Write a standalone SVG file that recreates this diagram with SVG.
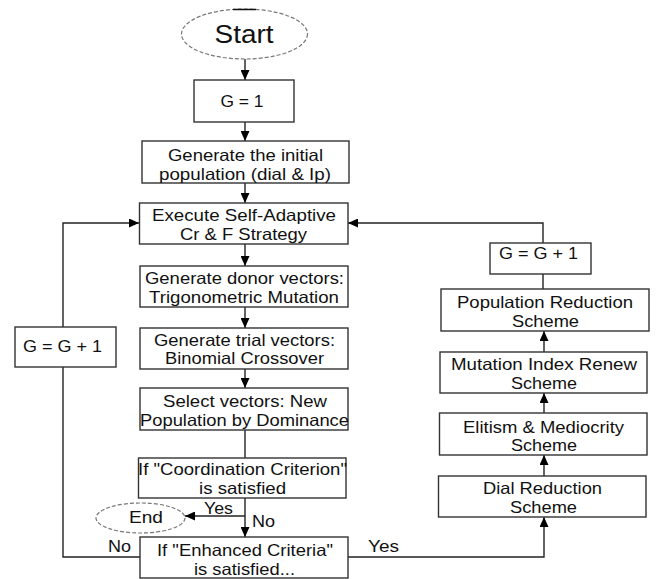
<svg xmlns="http://www.w3.org/2000/svg" width="657" height="579" viewBox="0 0 657 579">
<defs>
<marker id="ah" viewBox="0 0 10 10" refX="10" refY="5" markerWidth="10" markerHeight="9" markerUnits="userSpaceOnUse" orient="auto" preserveAspectRatio="none">
<path d="M0,0 L10,5 L0,10 z" fill="#000"/>
</marker>
<style>
.box{fill:#fff;stroke:#333;stroke-width:1.4}
.term{fill:#fff;stroke:#777;stroke-width:1.2;stroke-dasharray:4 2}
.t{font-family:"Liberation Sans",Arial,sans-serif;font-size:16.5px;fill:#111;text-anchor:middle}
.lbl{font-family:"Liberation Sans",Arial,sans-serif;font-size:16.5px;fill:#111}
.c{fill:none;stroke:#222;stroke-width:1.4}
.a{marker-end:url(#ah)}
</style>
</defs>
<rect width="657" height="579" fill="#fff"/>
<g id="connectors">
<path class="c a" d="M245,59 V80"/>
<path class="c a" d="M245,122 V141"/>
<path class="c a" d="M245,183 V203"/>
<path class="c a" d="M245,244 V266"/>
<path class="c a" d="M245,307 V328"/>
<path class="c a" d="M245,369 V388"/>
<path class="c" d="M245,430 V458"/>
<path class="c a" d="M245,498 V537"/>
<path class="c a" d="M245,516 H185"/>
<path class="c a" d="M63,327 V223 H139"/>
<path class="c" d="M140,557 H63 V367"/>
<path class="c a" d="M348,557 H544 V517"/>
<path class="c a" d="M544,476 V455"/>
<path class="c a" d="M544,413 V393"/>
<path class="c a" d="M544,352 V331"/>
<path class="c" d="M543,289 V274"/>
<path class="c a" d="M543,243 V223 H348"/>
</g>
<g id="start">
<ellipse class="term" cx="244.5" cy="34" rx="63" ry="25"/>
<path d="M233,9.5 H256" stroke="#111" stroke-width="1.5"/>
<text class="t" x="244" y="43" style="font-size:25px" textLength="59" lengthAdjust="spacingAndGlyphs">Start</text>
</g>
<g id="g1">
<rect class="box" x="194" y="80" width="100" height="42"/>
<text class="t" x="242" y="107" textLength="43" lengthAdjust="spacingAndGlyphs">G = 1</text>
</g>
<g id="init">
<rect class="box" x="142" y="141" width="207" height="42"/>
<text class="t" x="245.5" y="161" textLength="155" lengthAdjust="spacingAndGlyphs">Generate the initial</text>
<text class="t" x="245" y="179.5" textLength="172" lengthAdjust="spacingAndGlyphs">population (dial &amp; Ip)</text>
</g>
<g id="execute">
<rect class="box" x="139.5" y="203" width="208.5" height="41"/>
<text class="t" x="244" y="221" textLength="184" lengthAdjust="spacingAndGlyphs">Execute Self-Adaptive</text>
<text class="t" x="243.5" y="239.5" textLength="127" lengthAdjust="spacingAndGlyphs">Cr &amp; F Strategy</text>
</g>
<g id="donor">
<rect class="box" x="140" y="266" width="208" height="41"/>
<text class="t" x="244.5" y="284" textLength="199" lengthAdjust="spacingAndGlyphs">Generate donor vectors:</text>
<text class="t" x="244" y="302.5" textLength="190" lengthAdjust="spacingAndGlyphs">Trigonometric Mutation</text>
</g>
<g id="trial">
<rect class="box" x="140" y="328" width="208" height="41"/>
<text class="t" x="244.5" y="345.5" textLength="181" lengthAdjust="spacingAndGlyphs">Generate trial vectors:</text>
<text class="t" x="244.5" y="364" textLength="159" lengthAdjust="spacingAndGlyphs">Binomial Crossover</text>
</g>
<g id="select">
<rect class="box" x="140" y="388" width="208" height="42"/>
<text class="t" x="245" y="406.5" textLength="164" lengthAdjust="spacingAndGlyphs">Select vectors: New</text>
<text class="t" x="244.5" y="425.5" textLength="209" lengthAdjust="spacingAndGlyphs">Population by Dominance</text>
</g>
<g id="coordination">
<rect class="box" x="138.5" y="458" width="207.5" height="40"/>
<text class="t" x="242.5" y="475" textLength="209" lengthAdjust="spacingAndGlyphs">If "Coordination Criterion"</text>
<text class="t" x="242.5" y="494" textLength="87" lengthAdjust="spacingAndGlyphs">is satisfied</text>
</g>
<g id="end">
<ellipse class="term" cx="140.5" cy="518" rx="44.5" ry="15"/>
<text class="t" x="146" y="523" textLength="34" lengthAdjust="spacingAndGlyphs">End</text>
</g>
<g id="enhanced">
<rect class="box" x="140" y="537" width="208" height="41"/>
<text class="t" x="245" y="555.5" textLength="176" lengthAdjust="spacingAndGlyphs">If "Enhanced Criteria"</text>
<text class="t" x="244.5" y="575" textLength="101" lengthAdjust="spacingAndGlyphs">is satisfied...</text>
</g>
<g id="gleft">
<rect class="box" x="15" y="327" width="101" height="40"/>
<text class="t" x="62.5" y="352" textLength="79" lengthAdjust="spacingAndGlyphs">G = G + 1</text>
</g>
<g id="gright">
<rect class="box" x="490" y="243" width="101" height="31"/>
<text class="t" x="538.5" y="258.5" textLength="79" lengthAdjust="spacingAndGlyphs">G = G + 1</text>
</g>
<g id="popred">
<rect class="box" x="441" y="289" width="208" height="42"/>
<text class="t" x="545" y="308" textLength="176" lengthAdjust="spacingAndGlyphs">Population Reduction</text>
<text class="t" x="545.5" y="326.5" textLength="67" lengthAdjust="spacingAndGlyphs">Scheme</text>
</g>
<g id="mutation">
<rect class="box" x="440" y="352" width="207" height="41"/>
<text class="t" x="544" y="370" textLength="186" lengthAdjust="spacingAndGlyphs">Mutation Index Renew</text>
<text class="t" x="544" y="389" textLength="66" lengthAdjust="spacingAndGlyphs">Scheme</text>
</g>
<g id="elitism">
<rect class="box" x="439.5" y="413" width="207.5" height="42"/>
<text class="t" x="543.5" y="432.5" textLength="161" lengthAdjust="spacingAndGlyphs">Elitism &amp; Mediocrity</text>
<text class="t" x="544" y="451" textLength="66" lengthAdjust="spacingAndGlyphs">Scheme</text>
</g>
<g id="dial">
<rect class="box" x="438.5" y="476" width="207.5" height="41"/>
<text class="t" x="542.5" y="494" textLength="119" lengthAdjust="spacingAndGlyphs">Dial Reduction</text>
<text class="t" x="543.5" y="513" textLength="67" lengthAdjust="spacingAndGlyphs">Scheme</text>
</g>
<g id="labels">
<text class="lbl" x="204" y="514" textLength="29" lengthAdjust="spacingAndGlyphs">Yes</text>
<text class="lbl" x="252" y="527" textLength="23" lengthAdjust="spacingAndGlyphs">No</text>
<text class="lbl" x="108" y="551.5" textLength="23" lengthAdjust="spacingAndGlyphs">No</text>
<text class="lbl" x="368" y="551.5" textLength="31" lengthAdjust="spacingAndGlyphs">Yes</text>
</g>
</svg>
